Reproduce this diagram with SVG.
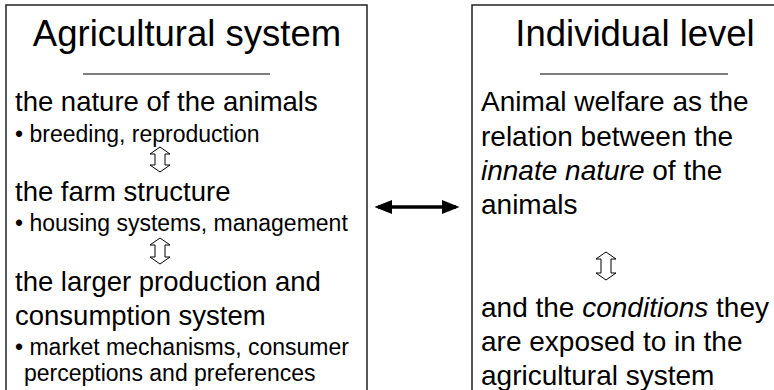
<svg xmlns="http://www.w3.org/2000/svg" width="774" height="390" viewBox="0 0 774 390">
<defs>
<style>
.box{fill:#fff;stroke:#222;stroke-width:1.5}
.rule{stroke:#555;stroke-width:1.5}
text{font-family:"Liberation Sans",Arial,sans-serif;fill:#000}
.title{font-size:36.5px;text-anchor:middle}
.body{font-size:27.5px}
.rbody{font-size:28px}
.small{font-size:23px}
.harrow{fill:#fff;stroke:#000;stroke-width:1}
</style>
<marker id="ah" markerWidth="5" markerHeight="4" refX="4" refY="2" orient="auto-start-reverse" markerUnits="strokeWidth">
<path d="M0,0 L5,2 L0,4 Z" fill="#000"/>
</marker>
</defs>
<g id="agricultural-system">
<rect class="box" x="6" y="5" width="361" height="400"/>
<text class="title" x="187" y="46">Agricultural system</text>
<line class="rule" x1="83" y1="74" x2="270" y2="74"/>
<text class="body" x="15" y="111">the nature of the animals</text>
<text class="small" x="15" y="142">• breeding, reproduction</text>
<polygon class="harrow" points="160,147 170,154 165,154 165,165 170,165 160,172 150,165 155,165 155,154 150,154"/>
<text class="body" x="15" y="201">the farm structure</text>
<text class="small" x="15" y="231">• housing systems, management</text>
<polygon class="harrow" points="160,238 170,245 165,245 165,257 170,257 160,264 150,257 155,257 155,245 150,245"/>
<text class="body" x="15" y="291">the larger production and</text>
<text class="body" x="15" y="325">consumption system</text>
<text class="small" x="15" y="355">• market mechanisms, consumer</text>
<text class="small" x="24" y="381">perceptions and preferences</text>
</g>
<g id="individual-level">
<rect class="box" x="472" y="5" width="310" height="400"/>
<text class="title" x="635" y="46">Individual level</text>
<line class="rule" x1="540" y1="74" x2="728" y2="74"/>
<text class="rbody" x="481" y="111">Animal welfare as the</text>
<text class="rbody" x="481" y="146">relation between the</text>
<text class="rbody" x="481" y="180"><tspan font-style="italic">innate nature</tspan> of the</text>
<text class="rbody" x="481" y="214">animals</text>
<polygon class="harrow" points="606,252 616,259 611,259 611,273 616,273 606,280 596,273 601,273 601,259 596,259"/>
<text class="rbody" x="481" y="317">and the <tspan font-style="italic">conditions</tspan> they</text>
<text class="rbody" x="481" y="351">are exposed to in the</text>
<text class="rbody" x="481" y="385">agricultural system</text>
</g>
<g id="connectors">
<line x1="378" y1="207" x2="456" y2="207" stroke="#000" stroke-width="3.5" marker-start="url(#ah)" marker-end="url(#ah)"/>
</g>
</svg>
